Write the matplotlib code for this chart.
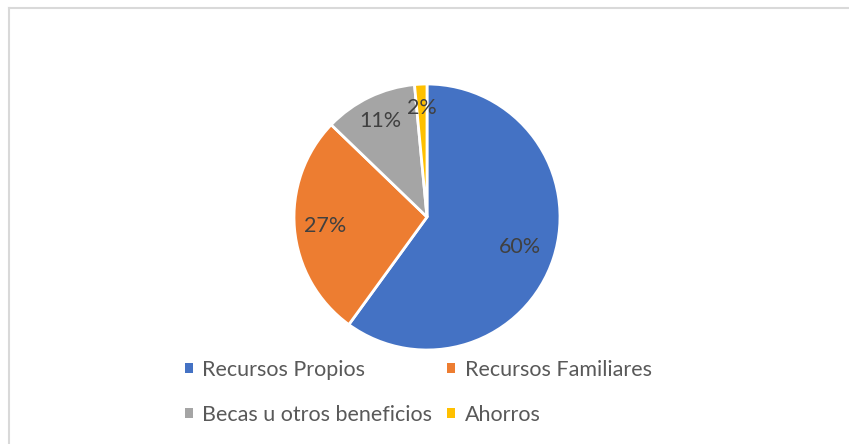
import matplotlib
matplotlib.use("Agg")
import matplotlib.pyplot as plt
from matplotlib.patches import Patch
from matplotlib.lines import Line2D
import numpy as np

categories = ["Recursos Propios", "Recursos Familiares", "Becas u otros beneficios", "Ahorros"]
values = [60.0, 27.2, 11.3, 1.5]
colors = ["#4472C4", "#ED7D31", "#A5A5A5", "#FFC000"]
label_dist = [0.735, 0.77, 0.80, 0.82]

plt.rcParams['font.family'] = ['Lato', 'DejaVu Sans']

W, H = 849, 444
fig = plt.figure(figsize=(W / 100, H / 100), dpi=100)
fig.patch.set_facecolor("white")

cx, cy, r = 427, 217, 133
ax = fig.add_axes([(cx - r) / W, (H - cy - r) / H, 2 * r / W, 2 * r / H])

wedges, texts, autotexts = ax.pie(
    values, colors=colors, startangle=90, counterclock=False,
    autopct=lambda p: f"{p:.0f}%", pctdistance=0.7,
    wedgeprops=dict(edgecolor="white", linewidth=2),
    textprops=dict(color="#404040", fontsize=15.5))
for w, t, d in zip(wedges, autotexts, label_dist):
    ang = np.deg2rad((w.theta1 + w.theta2) / 2)
    t.set_position((d * np.cos(ang), d * np.sin(ang)))
ax.set_xlim(-1, 1)
ax.set_ylim(-1, 1)
ax.set_aspect("equal")
ax.axis("off")

handles = [Patch(facecolor=c, edgecolor="none") for c in colors]
# legend fills column-wise; reorder so rows read left-to-right
order = [0, 2, 1, 3]
leg = fig.legend([handles[i] for i in order], [categories[i] for i in order],
                 ncol=2, loc="upper left",
                 bbox_to_anchor=(170 / W, 1 - 345 / H), frameon=False,
                 fontsize=15.5, handlelength=0.35, handleheight=0.35,
                 handletextpad=0.45, columnspacing=0.7, labelspacing=1.15,
                 borderpad=0.2)
for t in leg.get_texts():
    t.set_color("#595959")

# outer chart border (top and left visible)
fig.add_artist(Line2D([8.5 / W, 8.5 / W], [0, 1 - 8.5 / H], transform=fig.transFigure,
                      color="#D9D9D9", linewidth=1.5))
fig.add_artist(Line2D([8.5 / W, 1], [1 - 8.5 / H, 1 - 8.5 / H], transform=fig.transFigure,
                      color="#D9D9D9", linewidth=1.5))

fig.savefig("out.png", dpi=100)
